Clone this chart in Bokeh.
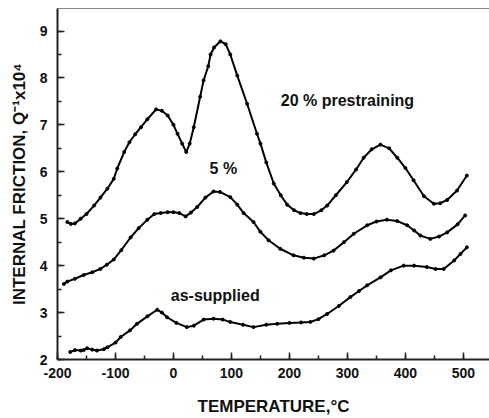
from bokeh.plotting import figure
from bokeh.models import (Range1d, SingleIntervalTicker, LinearAxis, Label,
                          FixedTicker, PrintfTickFormatter)
from bokeh.embed import file_html
from bokeh.resources import INLINE

# Internal friction vs. temperature for three material states
t_20 = [-183, -177, -170, -160, -150, -137, -126, -114, -103, -97, -85, -76,
        -66, -56, -45, -30, -20, -10, 0, 7, 15, 22, 28, 35, 46, 52, 60, 64, 70,
        81, 90, 98, 110, 127, 144, 150, 160, 173, 185, 196, 208, 219, 230, 242,
        255, 265, 280, 299, 315, 328, 342, 357, 372, 386, 400, 414, 432, 449,
        460, 472, 489, 506]
q_20 = [4.93, 4.89, 4.90, 5.00, 5.10, 5.28, 5.45, 5.64, 5.85, 6.07, 6.42, 6.63,
        6.80, 6.95, 7.12, 7.33, 7.30, 7.20, 7.00, 6.81, 6.60, 6.42, 6.60, 6.95,
        7.60, 7.95, 8.25, 8.50, 8.65, 8.78, 8.72, 8.50, 8.05, 7.45, 6.81, 6.60,
        6.20, 5.75, 5.50, 5.30, 5.18, 5.12, 5.10, 5.10, 5.18, 5.28, 5.50, 5.78,
        6.05, 6.30, 6.48, 6.58, 6.50, 6.30, 6.08, 5.82, 5.48, 5.32, 5.33, 5.40,
        5.60, 5.92]

t_5 = [-189, -183, -170, -155, -140, -126, -115, -103, -90, -74, -60, -45, -33,
       -22, -10, 0, 10, 21, 30, 41, 55, 69, 80, 98, 110, 121, 138, 150, 164, 184,
       207, 225, 242, 260, 276, 294, 311, 334, 350, 368, 386, 403, 415, 426, 443,
       458, 472, 490, 503]
q_5 = [3.61, 3.66, 3.72, 3.80, 3.86, 3.93, 4.02, 4.13, 4.33, 4.60, 4.80, 4.98,
       5.10, 5.12, 5.14, 5.14, 5.12, 5.05, 5.13, 5.25, 5.45, 5.58, 5.57, 5.46,
       5.30, 5.12, 4.93, 4.72, 4.54, 4.36, 4.22, 4.17, 4.15, 4.22, 4.32, 4.50,
       4.68, 4.86, 4.94, 4.98, 4.95, 4.86, 4.75, 4.64, 4.57, 4.62, 4.71, 4.88, 5.07]

t_as = [-178, -170, -160, -155, -149, -140, -132, -120, -114, -100, -91, -75,
        -63, -45, -28, -20, -11, 5, 23, 35, 52, 69, 85, 98, 120, 138, 160, 179,
        200, 220, 236, 250, 265, 285, 305, 320, 334, 357, 375, 397, 415, 437,
        452, 466, 484, 495, 506]
q_as = [2.16, 2.20, 2.19, 2.20, 2.24, 2.21, 2.19, 2.22, 2.26, 2.36, 2.48, 2.62,
        2.76, 2.92, 3.06, 3.00, 2.90, 2.78, 2.69, 2.72, 2.85, 2.87, 2.85, 2.80,
        2.74, 2.69, 2.74, 2.76, 2.78, 2.79, 2.80, 2.86, 2.97, 3.14, 3.33, 3.46,
        3.58, 3.75, 3.90, 4.00, 4.00, 3.97, 3.93, 3.93, 4.11, 4.25, 4.39]

series = [(t_20, q_20), (t_5, q_5), (t_as, q_as)]

FONT = "Liberation Sans"

p = figure(width=489, height=418, output_backend="svg", toolbar_location=None,
           x_range=Range1d(-200, 545), y_range=Range1d(2, 9.48),
           min_border_left=57, min_border_right=0, min_border_top=8,
           min_border_bottom=59, background_fill_color="white",
           border_fill_color="white")
p.outline_line_color = None
p.grid.visible = False

for tx, qy in series:
    p.line(tx, qy, line_color="black", line_width=2)
    p.scatter(tx, qy, size=3, color="black")

# axis styling
for ax in (p.xaxis[0], p.yaxis[0]):
    ax.axis_line_color = "#222222"
    ax.axis_line_width = 2
    ax.major_tick_in = 7
    ax.major_tick_out = 0
    ax.minor_tick_in = 4
    ax.minor_tick_out = 0
    ax.major_tick_line_color = "#222222"
    ax.minor_tick_line_color = "#222222"
    ax.major_tick_line_width = 1.5
    ax.minor_tick_line_width = 1.5
    ax.major_label_text_font = FONT
    ax.major_label_text_font_style = "bold"
    ax.major_label_text_font_size = "14px"
    ax.major_label_text_color = "#111111"
    ax.axis_label_text_font = FONT
    ax.axis_label_text_font_style = "bold"
    ax.axis_label_text_font_size = "17px"
    ax.axis_label_text_color = "#111111"
    ax.formatter = PrintfTickFormatter(format="%d")

p.xaxis.ticker = SingleIntervalTicker(interval=100, num_minor_ticks=2)
p.yaxis.ticker = SingleIntervalTicker(interval=1, num_minor_ticks=2)
p.xaxis.axis_label = "TEMPERATURE,°C"
p.yaxis.axis_label = "INTERNAL FRICTION, Q⁻¹x10⁴"
p.xaxis.major_label_standoff = 8
p.xaxis.axis_label_standoff = 16
p.yaxis.major_label_standoff = 10
p.yaxis.axis_label_standoff = 8

# thin top frame line
top = LinearAxis(ticker=FixedTicker(ticks=[]), axis_line_color="#888888",
                 axis_line_width=1, major_label_text_font_size="0px",
                 major_tick_line_color=None, minor_tick_line_color=None)
p.add_layout(top, "above")

for txt, x, y in [("20 % prestraining", 300, 7.52), ("5 %", 86, 6.07),
                  ("as-supplied", 72, 3.36)]:
    p.add_layout(Label(x=x, y=y, text=txt, text_align="center",
                       text_baseline="middle", text_font=FONT,
                       text_font_style="bold", text_font_size="16px",
                       text_color="#111111"))

open("out.html", "w").write(file_html(p, INLINE))
